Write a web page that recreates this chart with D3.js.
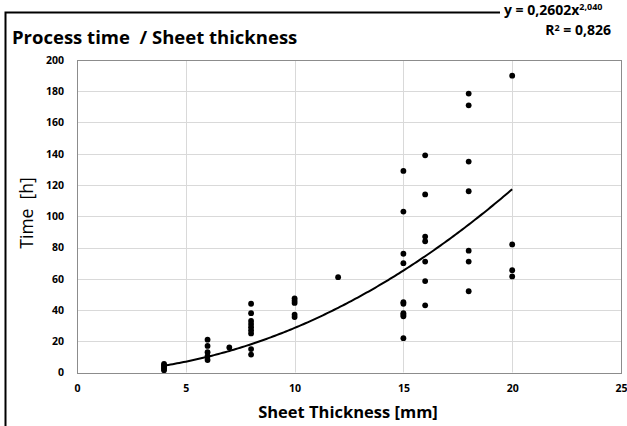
<!DOCTYPE html>
<html>
<head>
<meta charset="utf-8">
<script src="https://cdn.jsdelivr.net/npm/d3@7"></script>
<style>
  body { margin: 0; background: #fff; }
  text { font-family: "Open Sans", "DejaVu Sans", sans-serif; fill: #000; }
</style>
</head>
<body>
<div id="chart"></div>
<script>
// measured sheet thickness [mm] per job
const thickness = [
  4, 4, 4, 4, 4,
  6, 6, 6, 6, 6,
  7,
  8, 8, 8, 8, 8, 8, 8, 8, 8,
  10, 10, 10, 10, 10,
  12,
  15, 15, 15, 15, 15, 15, 15, 15, 15, 15,
  16, 16, 16, 16, 16, 16, 16,
  18, 18, 18, 18, 18, 18, 18,
  20, 20, 20, 20
];
// process time [h] for each job
const hours = [
  5.5, 4.5, 3.5, 2.5, 1.5,
  21, 17, 13, 10.5, 8,
  16,
  44, 38, 33, 31, 29, 27, 25, 15, 11.5,
  47.5, 46, 44.5, 37, 35.5,
  61,
  129, 103, 76, 70, 45, 44, 38, 37, 36, 22,
  139, 114, 87, 84, 71, 58.5, 43,
  178.5, 171, 135, 116, 78, 71, 52,
  190, 82, 65.5, 61.5
];
const xTicks = [0, 5, 10, 15, 20, 25];
const yTicks = [0, 20, 40, 60, 80, 100, 120, 140, 160, 180, 200];
// power trend fit y = a * x^b
const fitA = 0.2602, fitB = 2.040;
const fitRange = [4, 20];

const W = 627, H = 426;
const margin = {top: 60, right: 6, bottom: 53.5, left: 77};

const svg = d3.select("#chart").append("svg")
  .attr("width", W).attr("height", H);

// outer frame
svg.append("rect")
  .attr("x", 5.5).attr("y", 12.5)
  .attr("width", W + 10).attr("height", H + 10)
  .attr("fill", "none").attr("stroke", "#000").attr("stroke-width", 2);

const x = d3.scaleLinear().domain([0, 25]).range([margin.left, W - margin.right]);
const y = d3.scaleLinear().domain([0, 200]).range([H - margin.bottom, margin.top]);

// gridlines
svg.append("g")
  .selectAll("line.gy").data(yTicks).join("line")
  .attr("x1", x(0)).attr("x2", x(25))
  .attr("y1", d => Math.round(y(d)) + 0.5).attr("y2", d => Math.round(y(d)) + 0.5)
  .attr("stroke", "#d9d9d9");
svg.append("g")
  .selectAll("line.gx").data(xTicks).join("line")
  .attr("y1", y(0)).attr("y2", y(200))
  .attr("x1", d => Math.round(x(d)) + 0.5).attr("x2", d => Math.round(x(d)) + 0.5)
  .attr("stroke", "#d9d9d9");

// plot border
svg.append("rect")
  .attr("x", Math.round(x(0)) + 0.5).attr("y", Math.round(y(200)) + 0.5)
  .attr("width", Math.round(x(25)) - Math.round(x(0)))
  .attr("height", Math.round(y(0)) - Math.round(y(200)))
  .attr("fill", "none").attr("stroke", "#8c8c8c");

// axes (labels only)
const xAxis = svg.append("g")
  .attr("transform", `translate(0,${y(0)})`)
  .call(d3.axisBottom(x).tickValues(xTicks).tickSize(0).tickPadding(12));
const yAxis = svg.append("g")
  .attr("transform", `translate(${x(0)},0)`)
  .call(d3.axisLeft(y).tickValues(yTicks).tickSize(0).tickPadding(13));
[xAxis, yAxis].forEach(g => {
  g.select(".domain").remove();
  g.selectAll("text")
    .style("font-family", "'Open Sans', sans-serif")
    .style("font-size", "10.5px")
    .style("font-weight", "bold")
    .attr("fill", "#000");
});

// trend line
const fitPts = d3.range(fitRange[0], fitRange[1] + 0.001, 0.1)
  .map(t => [t, fitA * Math.pow(t, fitB)]);
svg.append("path")
  .datum(fitPts)
  .attr("d", d3.line().x(d => x(d[0])).y(d => y(d[1])))
  .attr("fill", "none").attr("stroke", "#000").attr("stroke-width", 2);

// data points
svg.append("g")
  .selectAll("circle").data(hours).join("circle")
  .attr("cx", (d, i) => x(thickness[i]))
  .attr("cy", d => y(d))
  .attr("r", 2.9)
  .attr("fill", "#000");

// titles
svg.append("text")
  .attr("x", 12).attr("y", 44)
  .style("font-size", "18.5px").style("font-weight", "bold")
  .attr("xml:space", "preserve")
  .text("Process time  / Sheet thickness");

svg.append("text")
  .attr("x", 348).attr("y", 418)
  .attr("text-anchor", "middle")
  .style("font-size", "16.5px").style("font-weight", "bold")
  .text("Sheet Thickness [mm]");

svg.append("text")
  .attr("transform", "translate(33,213) rotate(-90)")
  .attr("text-anchor", "middle")
  .attr("xml:space", "preserve")
  .style("font-size", "17.5px")
  .text("Time  [h]");

// fit equation label, white box over the frame
svg.append("rect")
  .attr("x", 500).attr("y", 0).attr("width", 135).attr("height", 38)
  .attr("fill", "#fff");
const eq = svg.append("text")
  .attr("x", 504).attr("y", 15)
  .style("font-size", "14px").style("font-weight", "bold");
eq.append("tspan").text("y = 0,2602x");
eq.append("tspan").attr("dy", -5).style("font-size", "9px").text("2,040");

const r2 = svg.append("text")
  .attr("x", 611).attr("y", 35)
  .attr("text-anchor", "end")
  .style("font-size", "14px").style("font-weight", "bold");
r2.append("tspan").text("R");
r2.append("tspan").attr("dy", -4).style("font-size", "9px").text("2");
r2.append("tspan").attr("dy", 4).text(" = 0,826");
</script>
</body>
</html>
